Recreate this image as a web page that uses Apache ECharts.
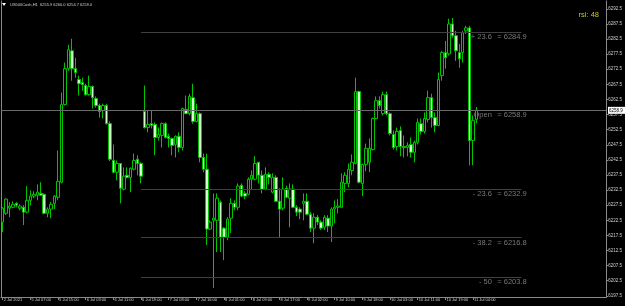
<!DOCTYPE html>
<html><head><meta charset="utf-8">
<script src="https://cdn.jsdelivr.net/npm/echarts@6/dist/echarts.min.js"></script>
<style>html,body{margin:0;padding:0;background:#000;}#c{width:625px;height:306px;}</style>
</head><body><div id="c"></div>
<script>
const headerText = 'US500Cash,H1  6255.9 6260.0 6254.7 6259.0';
const rsiText = 'rsi: 48';
const timeLabels = ['2 Jul 2021','5 Jul 07:00','5 Jul 15:00','6 Jul 03:00','6 Jul 11:00','6 Jul 19:00','7 Jul 08:00','7 Jul 16:00','8 Jul 01:00','8 Jul 09:00','8 Jul 17:00','9 Jul 02:00','9 Jul 10:00','9 Jul 18:00','10 Jul 03:00','10 Jul 11:00','10 Jul 19:00','11 Jul 04:00'];
const priceTicks = [6197.5,6202.5,6207.5,6212.5,6217.5,6222.5,6227.5,6232.5,6237.5,6242.5,6247.5,6252.5,6257.5,6262.5,6267.5,6272.5,6277.5,6282.5,6287.5,6292.5];
const opens = [
6221.9,6224.8,6226.5,6226.8,6228.1,6226.5,6226.8,6225.2,6229.1,6230.5,
6230.8,6231.4,6231.1,6224.8,6226.2,6228.1,6230.1,6235.1,6260.8,6272.7,
6278.6,6272.7,6269.1,6268.1,6267.1,6264.1,6266.8,6262.8,6260.5,6258.8,
6260.5,6254.5,6242.3,6238.4,6241.3,6232.8,6237.4,6236.7,6239.4,6242.7,
6241.3,6258.5,6253.2,6254.5,6254.2,6249.9,6250.6,6254.5,6250.3,6249.6,
6247.6,6250.3,6246.6,6259.2,6257.8,6263.1,6255.2,6257.8,6243.3,6239.4,
6219.6,6222.5,6222.5,6228.5,6219.9,6216.9,6223.2,6228.1,6226.8,6234.1,
6231.4,6231.1,6236.1,6236.1,6241.7,6237.4,6232.8,6237.7,6231.8,6236.7,
6228.8,6226.5,6233.1,6229.8,6232.8,6226.8,6226.2,6228.1,6228.8,6224.5,
6219.9,6223.5,6221.9,6220.2,6223.2,6220.6,6226.2,6226.8,6226.8,6234.7,
6234.7,6239.0,6241.3,6265.1,6234.7,6241.0,6241.7,6245.9,6256.2,6262.1,
6257.8,6264.1,6257.8,6250.9,6246.9,6252.2,6246.9,6246.6,6247.6,6245.0,
6248.3,6254.5,6251.9,6255.9,6263.1,6256.5,6253.9,6270.4,6278.0,6277.6,
6287.5,6283.6,6278.0,6278.0,6285.2,6286.2,6248.9,6255.9];
const closes = [
6226.5,6229.5,6227.2,6227.8,6227.5,6227.2,6225.2,6229.1,6230.5,6231.1,
6231.8,6230.8,6224.8,6226.2,6227.8,6230.5,6235.4,6260.8,6272.7,6279.0,
6272.7,6271.4,6267.7,6267.4,6264.1,6266.8,6263.1,6260.5,6258.5,6260.5,
6254.5,6242.7,6238.4,6241.3,6233.1,6237.1,6236.7,6239.7,6242.3,6241.3,
6237.1,6253.2,6254.2,6253.9,6249.9,6250.9,6254.5,6249.9,6249.6,6247.3,
6250.3,6246.6,6259.5,6257.8,6263.5,6255.2,6257.8,6243.3,6239.4,6219.6,
6221.9,6223.2,6229.8,6216.9,6216.9,6222.9,6228.1,6226.8,6233.8,6230.5,
6230.5,6236.1,6237.4,6241.3,6237.4,6232.8,6237.7,6236.7,6236.7,6228.8,
6226.2,6232.8,6230.1,6232.8,6226.8,6225.2,6225.2,6228.8,6224.5,6219.9,
6223.5,6221.9,6219.9,6223.5,6220.6,6226.2,6226.8,6227.2,6235.1,6237.4,
6239.4,6241.7,6265.1,6235.1,6241.0,6246.3,6246.3,6256.2,6262.1,6260.5,
6264.1,6257.8,6251.2,6246.6,6251.9,6246.9,6246.6,6247.3,6245.0,6248.3,
6254.9,6251.9,6256.2,6263.1,6256.5,6253.9,6269.1,6278.0,6276.3,6287.5,
6283.6,6278.6,6276.0,6284.6,6286.2,6248.9,6255.5,6259.0];
const highs = [
6226.8,6229.8,6228.5,6228.8,6228.5,6227.8,6227.5,6233.8,6232.4,6232.1,
6234.4,6235.1,6231.4,6226.8,6228.5,6230.8,6245.6,6264.8,6274.7,6280.6,
6282.6,6276.3,6270.4,6269.7,6267.7,6270.4,6267.1,6263.5,6261.1,6261.1,
6261.1,6255.2,6247.6,6242.3,6241.3,6240.0,6240.0,6240.0,6244.6,6244.0,
6241.7,6267.1,6258.8,6258.8,6254.9,6253.2,6254.9,6254.9,6251.2,6249.9,
6250.6,6251.6,6259.8,6263.8,6264.4,6267.7,6261.1,6258.2,6244.6,6244.6,
6222.5,6231.4,6231.4,6229.1,6220.2,6223.5,6229.8,6229.1,6234.7,6234.7,
6232.1,6236.7,6239.0,6243.7,6241.7,6239.0,6240.0,6238.4,6238.0,6237.4,
6233.1,6236.7,6234.0,6234.7,6234.4,6227.5,6226.8,6231.4,6231.4,6225.2,
6224.8,6224.2,6222.5,6224.2,6224.2,6226.8,6229.1,6229.5,6238.0,6238.4,
6241.3,6244.3,6269.7,6265.4,6241.3,6247.9,6249.6,6256.5,6263.5,6263.5,
6265.1,6265.1,6258.2,6252.2,6253.2,6253.6,6250.6,6248.3,6249.9,6248.9,
6256.2,6256.2,6258.2,6265.4,6264.4,6258.2,6271.4,6278.6,6281.9,6289.2,
6289.5,6285.2,6280.9,6285.2,6286.9,6286.9,6257.2,6260.0];
const lows = [
6218.6,6224.2,6223.5,6226.5,6226.8,6225.8,6220.9,6224.8,6227.5,6229.8,
6229.1,6230.5,6224.5,6223.5,6223.2,6226.2,6229.1,6234.7,6260.5,6272.0,
6268.7,6269.7,6263.8,6265.4,6263.8,6263.8,6259.5,6259.8,6256.5,6256.2,
6254.2,6242.1,6238.0,6235.7,6228.1,6232.4,6236.4,6231.8,6239.0,6237.4,
6234.7,6252.9,6251.6,6252.9,6244.0,6248.9,6246.6,6249.6,6246.6,6244.0,
6243.3,6245.0,6245.6,6257.8,6257.2,6254.5,6254.9,6241.7,6238.4,6214.3,
6219.3,6200.1,6212.0,6212.0,6209.3,6215.9,6218.3,6225.8,6225.8,6230.1,
6229.5,6230.8,6232.8,6235.7,6234.7,6231.4,6232.4,6234.4,6231.4,6228.5,
6216.9,6225.8,6229.8,6220.2,6226.5,6223.9,6222.9,6222.5,6224.2,6218.6,
6214.9,6220.9,6219.3,6219.3,6218.6,6215.3,6221.5,6224.8,6226.8,6231.8,
6233.4,6237.4,6241.0,6234.7,6230.5,6238.7,6238.4,6245.6,6255.9,6259.5,
6257.2,6257.2,6250.6,6245.9,6245.6,6243.7,6243.3,6243.7,6243.3,6241.7,
6247.6,6250.9,6251.2,6254.9,6253.2,6251.6,6253.6,6268.7,6272.7,6277.0,
6282.9,6275.3,6273.0,6274.7,6284.2,6240.7,6240.7,6254.7];
const fibNames = ['+ 23.6', '- 23.6', '- 38.2', '- 50'];
const fibValues = [6284.9, 6232.9, 6216.8, 6203.8];
const openName = 'Open';
const openValue = 6258.9;
const lastPrice = 6258.9;

const SLOTS = 175, LABEL_STEP = 8, FIB_FROM = 40, FIB_TO = 150;
const slots = Array.from({length: SLOTS}, (_, i) => String(i));
const candles = opens.map((o, i) => [o, closes[i], lows[i], highs[i]]);
const showTick = (i) => i % LABEL_STEP === 0 && i / LABEL_STEP < timeLabels.length;

const chart = echarts.init(document.getElementById('c'), null, {renderer: 'canvas'});
const fibLines = fibValues.map(v => [{coord: [FIB_FROM, v], lineStyle: {color: '#404040', width: 1, type: 'solid'}}, {coord: [FIB_TO, v]}]);
chart.setOption({
  animation: false,
  backgroundColor: '#000000',
  grid: {left: 1, right: 17, top: 1, bottom: 9, show: false},
  xAxis: {
    type: 'category', data: slots, boundaryGap: true,
    axisLine: {show: true, lineStyle: {color: '#8a8a8a', width: 1}},
    axisTick: {show: true, alignWithLabel: true, interval: (i) => showTick(i), length: 3, lineStyle: {color: '#8a8a8a'}},
    axisLabel: {show: true, interval: (i) => showTick(i), formatter: (v, i) => timeLabels[i / LABEL_STEP] || '', align: 'left', fontSize: 4, color: '#d0d0d0', margin: 1, fontFamily: 'Liberation Sans', padding: [0, 0, 0, 1]},
    splitLine: {show: false}
  },
  yAxis: [{
    type: 'value', position: 'right', min: 6197.1, max: 6295.1, scale: true,
    axisLine: {show: true, lineStyle: {color: '#8a8a8a', width: 1}},
    axisTick: {show: true, customValues: priceTicks, length: 2, lineStyle: {color: '#8a8a8a'}},
    axisLabel: {show: true, customValues: priceTicks, formatter: (v) => v.toFixed(1), fontSize: 4.5, color: '#d0d0d0', margin: 2, fontFamily: 'Liberation Sans'},
    splitLine: {show: false}
  }, {
    type: 'value', position: 'left', min: 6197.1, max: 6295.1, scale: true,
    axisLine: {show: true, onZero: false, lineStyle: {color: '#8a8a8a', width: 1}},
    axisTick: {show: false}, axisLabel: {show: false}, splitLine: {show: false}
  }],
  series: [{
    type: 'candlestick', data: candles, barWidth: 3,
    itemStyle: {color: '#000000', color0: '#d2ffcc', borderColor: '#00c400', borderColor0: '#00c400', borderWidth: 1},
    markLine: {
      silent: true, symbol: 'none', label: {show: false},
      data: [
        ...fibLines,
        {yAxis: openValue, lineStyle: {color: '#6a6a6a', width: 1, type: 'solid'}}
      ]
    }
  }]
});

const px = (i, v) => chart.convertToPixel({seriesIndex: 0}, [i, v]);
const gfx = [];
const levelNames = fibNames.concat([openName]);
const levelValues = fibValues.concat([openValue]);
levelNames.forEach((n, k) => {
  const p1 = px(141, levelValues[k]);
  const p2 = px(143, levelValues[k]);
  const ty = p1[1] + 5;
  gfx.push({type: 'text', x: p1[0] + 1.5, y: ty, style: {text: n, fill: '#787878', fontSize: 7.5, fontFamily: 'Liberation Sans', align: 'right', verticalAlign: 'middle'}});
  gfx.push({type: 'text', x: p2[0], y: ty, style: {text: '= ' + levelValues[k].toFixed(1), fill: '#787878', fontSize: 7.5, fontFamily: 'Liberation Sans', align: 'left', verticalAlign: 'middle'}});
});
const lp = px(0, lastPrice);
gfx.push({type: 'rect', shape: {x: 608, y: lp[1] - 3.5, width: 17, height: 7}, style: {fill: '#ffffff'}});
gfx.push({type: 'text', x: 609, y: lp[1], style: {text: lastPrice.toFixed(1), fill: '#000000', fontSize: 4.5, fontFamily: 'Liberation Sans', verticalAlign: 'middle'}});
gfx.push({type: 'text', x: 10, y: 5, style: {text: headerText, fill: '#d0d0d0', fontSize: 4, fontFamily: 'Liberation Sans', verticalAlign: 'middle'}});
gfx.push({type: 'polygon', shape: {points: [[2, 3], [6, 3], [4, 6]]}, style: {fill: '#ffffff'}});
gfx.push({type: 'text', x: 599, y: 15, style: {text: rsiText, fill: '#cccc00', fontSize: 7.5, fontFamily: 'Liberation Sans', align: 'right', verticalAlign: 'middle'}});
chart.setOption({graphic: gfx});
</script></body></html>
